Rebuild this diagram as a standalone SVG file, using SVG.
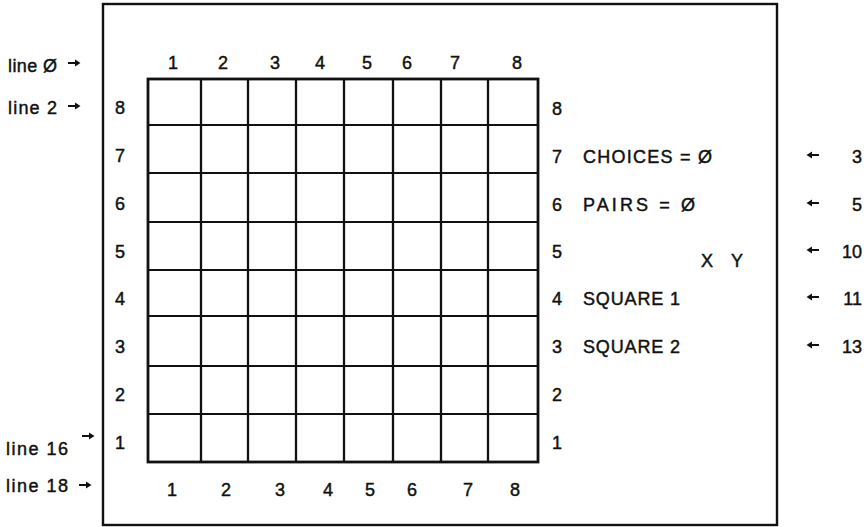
<svg xmlns="http://www.w3.org/2000/svg" width="866" height="527" viewBox="0 0 866 527">
<style>
  text { font-family: "Liberation Sans", Arial, sans-serif; font-size: 18px; fill: #111; stroke: #111; stroke-width: 0.45; }
  .c { text-anchor: middle; }
  .frame { fill: none; stroke: #111; stroke-width: 2.4; }
  .outer { fill: none; stroke: #111; stroke-width: 2.8; }
  .vline { stroke: #111; stroke-width: 2.3; }
  .hline { stroke: #111; stroke-width: 1.9; }
  .arr { fill: #111; }
</style>
<defs>
  <path id="arrR" d="M-6,-1 H1 V-3.5 L6.5,0 L1,3.5 V1 H-6 Z"/>
</defs>
<rect width="866" height="527" fill="#fff"/>
<g id="frame"><rect class="frame" x="103" y="4" width="674" height="521"/></g>

<g id="grid">
  <rect class="outer" x="148" y="79" width="390" height="383"/>
  <line class="vline" x1="201" y1="79" x2="201" y2="462"/>
  <line class="vline" x1="248" y1="79" x2="248" y2="462"/>
  <line class="vline" x1="296" y1="79" x2="296" y2="462"/>
  <line class="vline" x1="344" y1="79" x2="344" y2="462"/>
  <line class="vline" x1="393" y1="79" x2="393" y2="462"/>
  <line class="vline" x1="441" y1="79" x2="441" y2="462"/>
  <line class="vline" x1="488" y1="79" x2="488" y2="462"/>
  <line class="hline" x1="148" y1="125" x2="538" y2="125"/>
  <line class="hline" x1="148" y1="173" x2="538" y2="173"/>
  <line class="hline" x1="148" y1="222" x2="538" y2="222"/>
  <line class="hline" x1="148" y1="270" x2="538" y2="270"/>
  <line class="hline" x1="148" y1="316" x2="538" y2="316"/>
  <line class="hline" x1="148" y1="366" x2="538" y2="366"/>
  <line class="hline" x1="148" y1="414" x2="538" y2="414"/>
</g>

<g id="col-labels-top">
  <text class="c" x="173" y="69">1</text>
  <text class="c" x="223" y="69">2</text>
  <text class="c" x="275" y="69">3</text>
  <text class="c" x="320" y="69">4</text>
  <text class="c" x="367" y="69">5</text>
  <text class="c" x="407" y="69">6</text>
  <text class="c" x="455" y="69">7</text>
  <text class="c" x="517" y="69">8</text>
</g>
<g id="col-labels-bottom">
  <text class="c" x="172" y="496">1</text>
  <text class="c" x="226" y="496">2</text>
  <text class="c" x="280" y="496">3</text>
  <text class="c" x="328" y="496">4</text>
  <text class="c" x="370" y="496">5</text>
  <text class="c" x="412" y="496">6</text>
  <text class="c" x="468" y="496">7</text>
  <text class="c" x="515" y="496">8</text>
</g>
<g id="row-labels-left">
  <text class="c" x="120" y="114">8</text>
  <text class="c" x="120" y="162">7</text>
  <text class="c" x="120" y="210">6</text>
  <text class="c" x="120" y="258">5</text>
  <text class="c" x="120" y="305">4</text>
  <text class="c" x="120" y="353">3</text>
  <text class="c" x="120" y="401">2</text>
  <text class="c" x="120" y="449">1</text>
</g>
<g id="row-labels-right">
  <text class="c" x="557" y="115">8</text>
  <text class="c" x="557" y="163">7</text>
  <text class="c" x="557" y="211">6</text>
  <text class="c" x="557" y="258">5</text>
  <text class="c" x="557" y="305">4</text>
  <text class="c" x="557" y="353">3</text>
  <text class="c" x="557" y="401">2</text>
  <text class="c" x="557" y="449">1</text>
</g>
<g id="status">
  <text x="583" y="163" textLength="129" lengthAdjust="spacing">CHOICES = Ø</text>
  <text x="583" y="211" textLength="112" lengthAdjust="spacing">PAIRS = Ø</text>
  <text class="c" x="707" y="267">X</text>
  <text class="c" x="737" y="267">Y</text>
  <text x="583" y="305" textLength="97" lengthAdjust="spacing">SQUARE 1</text>
  <text x="583" y="353" textLength="97" lengthAdjust="spacing">SQUARE 2</text>
</g>
<g id="line-labels">
  <text x="8" y="72" textLength="49" lengthAdjust="spacing">line Ø</text>
  <text x="8" y="114" textLength="49" lengthAdjust="spacing">line 2</text>
  <text x="6" y="455" textLength="62" lengthAdjust="spacing">line 16</text>
  <text x="6" y="492" textLength="62" lengthAdjust="spacing">line 18</text>
</g>
<g id="offset-labels">
  <text x="862" y="163" text-anchor="end">3</text>
  <text x="862" y="211" text-anchor="end">5</text>
  <text x="862" y="258" text-anchor="end">10</text>
  <text x="862" y="305" text-anchor="end">11</text>
  <text x="862" y="353" text-anchor="end">13</text>
</g>
<g id="connectors">
  <use href="#arrR" class="arr" transform="translate(74,63)"/>
  <use href="#arrR" class="arr" transform="translate(74,106)"/>
  <use href="#arrR" class="arr" transform="translate(88,436)"/>
  <use href="#arrR" class="arr" transform="translate(85,485)"/>
  <use href="#arrR" class="arr" transform="translate(813,155) scale(-1,1)"/>
  <use href="#arrR" class="arr" transform="translate(813,203) scale(-1,1)"/>
  <use href="#arrR" class="arr" transform="translate(813,250) scale(-1,1)"/>
  <use href="#arrR" class="arr" transform="translate(813,297) scale(-1,1)"/>
  <use href="#arrR" class="arr" transform="translate(813,345) scale(-1,1)"/>
</g>
</svg>
